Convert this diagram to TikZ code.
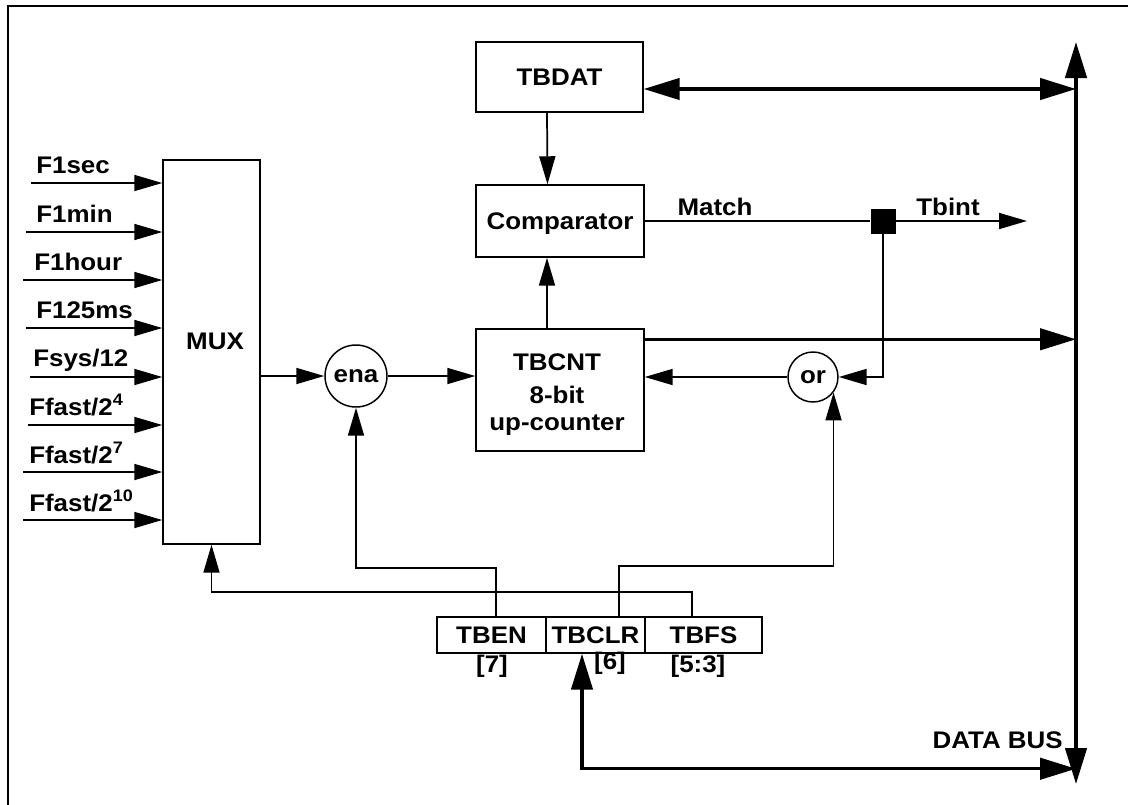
\documentclass[tikz,border=0pt]{standalone}
\usepackage{fontspec}
\setmainfont{Liberation Sans}[FakeStretch=1.08]
\usetikzlibrary{arrows.meta,calc}
\newcommand\lblfont{\fontsize{18}{21}\selectfont\bfseries}
\newcommand\supr[1]{\raisebox{7.5pt}{\fontsize{12.5}{12.5}\selectfont #1}}
\tikzset{
  box/.style={draw, line width=1.1pt, inner sep=0pt, font=\lblfont},
  lbl/.style={font=\lblfont, inner sep=0pt, anchor=base},
  ln/.style={line width=1.3pt},
  busln/.style={line width=2.6pt},
  arr/.style={ln, -{Triangle[length=21pt,width=12pt]}},
  barr/.style={busln, -{Triangle[length=27pt,width=16pt]}},
  bdarr/.style={busln, {Triangle[length=27pt,width=16pt]}-{Triangle[length=27pt,width=16pt]}},
}
\begin{document}
\begin{tikzpicture}[x=0.75pt,y=-0.75pt]
\useasboundingbox (0,0) rectangle (1128,804);
% outer frame (partially visible)
\draw[line width=1.3pt] (8,830) -- (8,6) -- (1150,6);

% boxes
\node[box, minimum width=72.75pt, minimum height=288pt] (mux) at (211.5,352) {};
\node[lbl] at (215,349) {MUX};
\node[box, minimum width=125.25pt, minimum height=52.5pt, text depth=0pt] (tbdat) at (559.5,77) {TBDAT};
\node[box, minimum width=126pt, minimum height=54pt, text depth=0pt] (comp) at (560,221) {Comparator};
\node[box, minimum width=126pt, minimum height=91.5pt] (tbcnt) at (560,390) {};
\node[lbl] at (557,370) {TBCNT};
\node[lbl] at (557,403) {8-bit};
\node[lbl] at (557,430) {up-counter};
\node[box, circle, minimum size=46.5pt] (ena) at (356,376) {ena};
\node[box, circle, minimum size=37.5pt] (or) at (813,377) {or};
\node[fill, minimum size=18.75pt, inner sep=0pt] (jn) at (883,221) {};

% register
\node[box, minimum width=81.75pt, minimum height=27pt, text depth=0pt] (tben) at (491.5,635) {TBEN};
\node[box, minimum width=74.25pt, minimum height=27pt, text depth=0pt] (tbclr) at (595.5,635) {TBCLR};
\node[box, minimum width=87.75pt, minimum height=27pt, text depth=0pt] (tbfs) at (703.5,635) {TBFS};
\node[lbl] at (492,672) {[7]};
\node[lbl] at (610,669) {[6]};
\node[lbl] at (698,672) {[5:3]};

% inputs
\coordinate (i1) at (31,183);
\coordinate (i2) at (26,232);
\coordinate (i3) at (23,280);
\coordinate (i4) at (26,328);
\coordinate (i5) at (30,377);
\coordinate (i6) at (28,425);
\coordinate (i7) at (23,472);
\coordinate (i8) at (23,520);
\foreach \i in {1,...,8} {\draw[arr] (i\i) -- (i\i -| mux.west);}
\node[lbl, anchor=base west] at (36,173) {F1sec};
\node[lbl, anchor=base west] at (36,222) {F1min};
\node[lbl, anchor=base west] at (34,270) {F1hour};
\node[lbl, anchor=base west] at (36,318) {F125ms};
\node[lbl, anchor=base west] at (33,366) {Fsys/12};
\node[lbl, anchor=base west] at (29,415) {Ffast/2\supr{4}};
\node[lbl, anchor=base west] at (29,463) {Ffast/2\supr{7}};
\node[lbl, anchor=base west] at (29,511) {Ffast/2\supr{10}};

% bus
\coordinate (busT) at (1076,42);
\coordinate (busB) at (1076,784);
\draw[bdarr] (busB) -- (busT);
\node[lbl, anchor=base east] at (1063,748) {DATA BUS};

% connections
\draw[bdarr] ($(tbdat.east)+(0,12)$) coordinate (dA) -- (dA -| busT);
\draw[arr] ($(tbdat.south)+(-12.5,0)$) -- ($(comp.north)+(-12.5,0)$);
\draw[arr] ($(tbcnt.north)+(-13,0)$) -- ($(comp.south)+(-13,0)$);
\draw[ln] (comp.east) -- (comp.east -| jn.west);
\coordinate (tbint) at (1027,221);
\draw[arr] (jn.east) -- (tbint);
\node[lbl] at (715,215) {Match};
\node[lbl] at (948,215) {Tbint};
\draw[arr] (jn.south) -- (jn.south |- or.east) -- (or.east);
\draw[arr] (or.west) -- (or.west -| tbcnt.east);
\draw[barr] ($(tbcnt.north east)+(-2,11)$) coordinate (cA) -- (cA -| busT);
\draw[arr] (mux.east |- ena.west) -- (ena.west);
\draw[arr] (ena.east) -- (ena.east -| tbcnt.west);

\draw[arr] ($(tben.north)+(4.5,0)$) -- ++(0,-48) -| (ena.south);
\draw[arr] ($(tbfs.north)+(-11.5,0)$) -- ++(0,-24) -| (mux.south);
\draw[arr] ($(tbclr.north)+(23.5,0)$) -- ++(0,-50) -| (or.-37);
\draw[bdarr] ($(tbclr.south)+(-13.5,0)$) -- ++(0,115) coordinate (dB) -- (dB -| busT);
\end{tikzpicture}
\end{document}
